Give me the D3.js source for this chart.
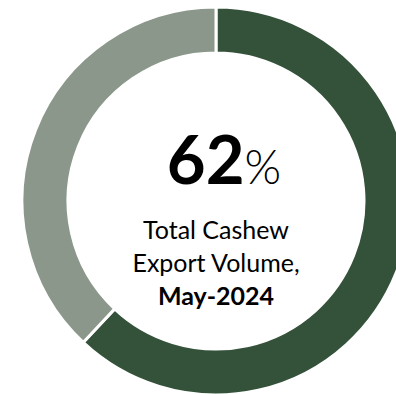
<!DOCTYPE html>
<html>
<head>
<meta charset="utf-8">
<script src="https://cdn.jsdelivr.net/npm/d3@7"></script>
<style>
  body { margin: 0; background: #fff; }
  svg { display: block; font-family: Lato, "Open Sans", sans-serif; }
</style>
</head>
<body>
<svg class="chart"></svg>
<script>
// chart size
var width = 396;
var height = 394;

// data: share of total cashew export volume
var categories = ["Share", "Rest"];
var values = [62, 38];
var colors = ["#34523a", "#8b978b"];
var headline = "62";
var caption = ["Total Cashew", "Export Volume,"];
var period = "May-2024";

var cx = 216, cy = 201;
var outerR = 194, innerR = 148;

var svg = d3.select(".chart")
    .attr("width", width)
    .attr("height", height);

var g = svg.append("g")
    .attr("transform", "translate(" + cx + "," + cy + ")");

var pie = d3.pie().sort(null).value(function(d) { return d; });
var arc = d3.arc().innerRadius(innerR).outerRadius(outerR);

g.selectAll("path")
    .data(pie(values))
    .enter().append("path")
    .attr("d", arc)
    .attr("fill", function(d, i) { return colors[i]; })
    .attr("stroke", "#fff")
    .attr("stroke-width", 3);

// center label
var big = g.append("text")
    .attr("x", 8)
    .attr("y", -17)
    .attr("text-anchor", "middle")
    .attr("fill", "#000");
big.append("tspan")
    .style("font-weight", "bold")
    .style("font-size", "67px")
    .text(headline);
big.append("tspan")
    .style("font-size", "47px")
    .style("font-weight", 300)
    .text("%");

caption.forEach(function(line, i) {
    g.append("text")
        .attr("x", 0)
        .attr("y", 38 + i * 33)
        .attr("text-anchor", "middle")
        .style("font-size", "25px")
        .attr("fill", "#000")
        .text(line);
});

g.append("text")
    .attr("x", 0)
    .attr("y", 104)
    .attr("text-anchor", "middle")
    .style("font-size", "25px")
    .style("font-weight", "bold")
    .attr("fill", "#000")
    .text(period);
</script>
</body>
</html>
